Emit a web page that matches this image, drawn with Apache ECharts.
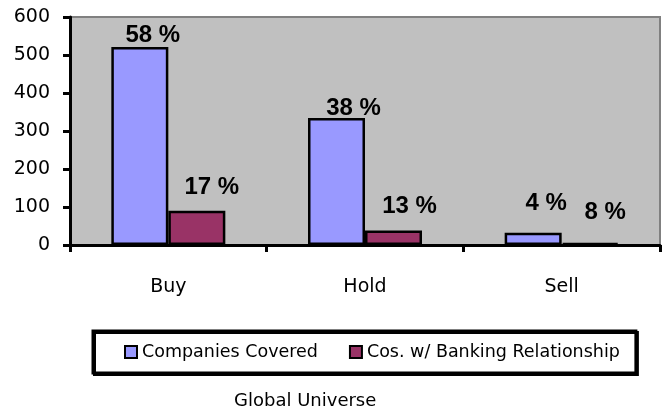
<!DOCTYPE html>
<html>
<head>
<meta charset="utf-8">
<script src="https://cdn.jsdelivr.net/npm/echarts@6/dist/echarts.min.js"></script>
<style>
html,body{margin:0;padding:0;background:#fff;}
#chart{width:663px;height:414px;}
</style>
</head>
<body>
<div id="chart"></div>
<script>
// ---- data ----
const categories = ['Buy', 'Hold', 'Sell'];
const companiesCovered = [521, 334, 32];
const bankingRelationship = [90, 38, 5];
const coveredPctLabels = ['58 %', '38 %', '4 %'];
const bankingPctLabels = ['17 %', '13 %', '8 %'];
const yTicks = [0, 100, 200, 300, 400, 500, 600];
const seriesNames = ['Companies Covered', 'Cos. w/ Banking Relationship'];
const chartTitle = 'Global Universe';

// ---- label nudges (styling only) ----
const coveredNudge = [[13, 0], [17, 2], [13, -17]];
const bankingNudge = [[15, -11], [16, -12], [15, -18]];

const font = 'DejaVu Sans';

function buildData(values, labels, nudges) {
  return values.map((v, i) => ({
    value: v,
    label: { formatter: labels[i], offset: nudges[i] }
  }));
}

const chart = echarts.init(document.getElementById('chart'), null, { renderer: 'canvas' });

const barLabel = {
  show: true,
  position: 'top',
  distance: 0,
  color: '#000',
  fontFamily: 'Liberation Sans',
  fontWeight: 'bold',
  fontSize: 24
};

chart.setOption({
  animation: false,
  backgroundColor: '#ffffff',
  title: {
    text: chartTitle,
    left: 234,
    top: 392,
    padding: 0,
    textStyle: { fontFamily: font, fontWeight: 'normal', fontSize: 18, color: '#000' }
  },
  legend: {
    left: 93,
    top: 331,
    itemWidth: 12,
    itemHeight: 12,
    itemGap: 31,
    padding: [12, 16, 12, 31],
    borderColor: '#000',
    borderWidth: 3,
    shadowColor: '#000',
    shadowOffsetX: 1.5,
    shadowOffsetY: 1.5,
    shadowBlur: 0,
    backgroundColor: '#fff',
    icon: 'rect',
    textStyle: { fontFamily: font, fontSize: 17.5, color: '#000' },
    data: seriesNames
  },
  grid: {
    left: 70,
    right: 3,
    top: 17,
    bottom: 169,
    show: true,
    backgroundColor: '#c0c0c0',
    borderColor: '#808080',
    borderWidth: 2
  },
  xAxis: {
    type: 'category',
    data: categories,
    axisLine: { show: true, lineStyle: { color: '#000', width: 3 } },
    axisTick: { show: true, length: 7, lineStyle: { color: '#000', width: 3 } },
    axisLabel: { margin: 33, fontFamily: font, fontSize: 19, color: '#000' }
  },
  yAxis: {
    type: 'value',
    min: yTicks[0],
    max: yTicks[yTicks.length - 1],
    interval: yTicks[1] - yTicks[0],
    axisLine: { show: true, lineStyle: { color: '#000', width: 3 } },
    axisTick: { show: true, length: 7, lineStyle: { color: '#000', width: 3 } },
    splitLine: { show: false },
    axisLabel: { margin: 20, fontFamily: font, fontSize: 19, color: '#000' }
  },
  series: [
    {
      name: seriesNames[0],
      type: 'bar',
      barWidth: 57,
      barGap: '0%',
      itemStyle: { color: '#9999ff', borderColor: '#000', borderWidth: 2.5 },
      label: barLabel,
      data: buildData(companiesCovered, coveredPctLabels, coveredNudge)
    },
    {
      name: seriesNames[1],
      type: 'bar',
      barWidth: 57,
      barGap: '0%',
      itemStyle: { color: '#993366', borderColor: '#000', borderWidth: 2.5 },
      label: barLabel,
      data: buildData(bankingRelationship, bankingPctLabels, bankingNudge)
    }
  ]
});
</script>
</body>
</html>
